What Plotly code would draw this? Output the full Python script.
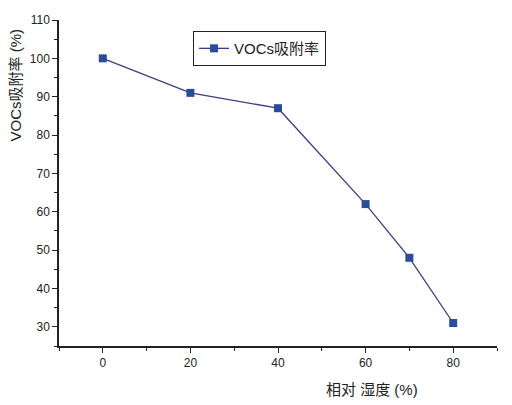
import plotly.graph_objects as go

humidity = [0, 20, 40, 60, 70, 80]
adsorption = [100, 91, 87, 62, 48, 31]
x_ticks = [0, 20, 40, 60, 80]
y_ticks = [30, 40, 50, 60, 70, 80, 90, 100, 110]
series_name = "VOCs吸附率"
x_title = "相对 湿度 (%)"
y_title = "VOCs吸附率 (%)"

fig = go.Figure()
fig.add_trace(go.Scatter(
    x=humidity, y=adsorption, mode="lines+markers", name=series_name,
    line=dict(color="#3b3f80", width=1.3),
    marker=dict(symbol="square", size=8, color="#2b4c9b"),
))

font = "Liberation Sans, Arial, Noto Sans CJK SC, sans-serif"
fig.update_layout(
    width=512, height=405,
    margin=dict(l=59, r=15, t=20, b=59),
    paper_bgcolor="white", plot_bgcolor="white",
    font=dict(family=font, color="#222"),
    showlegend=True,
    legend=dict(x=0.306, y=0.966, xanchor="left", yanchor="top",
                bordercolor="#222", borderwidth=1, bgcolor="white",
                font=dict(size=15, family=font), itemwidth=30,
                tracegroupgap=0),
    xaxis=dict(range=[-10, 90], tickvals=x_ticks, showgrid=False, zeroline=False,
               showline=True, linecolor="#222", linewidth=1.5,
               ticks="outside", ticklen=5, tickwidth=1.2, tickcolor="#222",
               tickfont=dict(size=12),
               minor=dict(tickvals=[-10, 10, 30, 50, 70, 90], ticks="outside",
                          ticklen=3, tickcolor="#222", showgrid=False)),
    yaxis=dict(range=[25, 110], tickvals=y_ticks, showgrid=False, zeroline=False,
               showline=True, linecolor="#222", linewidth=1.5,
               ticks="outside", ticklen=5, tickwidth=1.2, tickcolor="#222",
               tickfont=dict(size=12),
               minor=dict(tickvals=[25, 35, 45, 55, 65, 75, 85, 95, 105], ticks="outside",
                          ticklen=3, tickcolor="#222", showgrid=False)),
    annotations=[
        dict(text=x_title, xref="paper", yref="paper", x=0.715, y=-0.1,
             xanchor="center", yanchor="top", showarrow=False, font=dict(size=15)),
        dict(text=y_title, xref="paper", yref="paper", x=-0.1, y=0.8,
             xanchor="center", yanchor="middle", textangle=-90, showarrow=False,
             font=dict(size=15)),
    ],
)
fig.write_html("out.html", config={"displayModeBar": False},
               post_script="document.body.style.margin='0';document.body.style.overflow='hidden';")
